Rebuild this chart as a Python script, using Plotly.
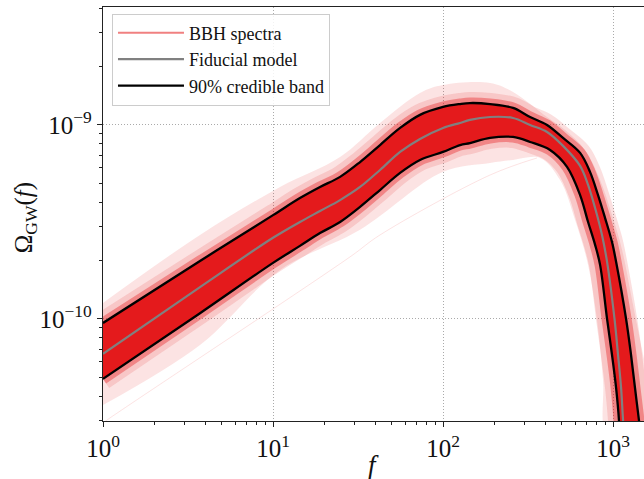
import plotly.graph_objects as go

# ---- values ----
f_fid = [1.0, 3.72, 10, 14.4, 18.9, 24.8, 32.5, 42.6, 55.9, 73.2, 100, 126, 144, 189, 258, 325, 409, 508, 640, 713,
         784, 861, 922, 1020, 1070, 1115, 1146, 1177]
om_fid = [6.60e-11, 1.46e-10, 2.62e-10, 3.16e-10, 3.60e-10, 4.10e-10, 4.79e-10, 5.86e-10, 7.26e-10, 8.47e-10,
          9.65e-10, 1.024e-9, 1.062e-9, 1.099e-9, 1.086e-9, 1.0e-9, 9.20e-10, 7.80e-10, 6.15e-10, 4.91e-10,
          3.73e-10, 2.71e-10, 1.97e-10, 1.0e-10, 6.52e-11, 4.41e-11, 2.98e-11, 2.24e-11]

f_hi = [1.0, 3.72, 10, 14.4, 18.9, 24.8, 32.5, 42.6, 55.9, 73.2, 100, 126, 144, 189, 258, 325, 409, 508, 640, 732,
        816, 897, 986, 1042, 1193, 1276, 1346, 1422, 1482]
om_hi = [9.54e-11, 1.99e-10, 3.43e-10, 4.20e-10, 4.79e-10, 5.40e-10, 6.44e-10, 7.88e-10, 9.65e-10, 1.127e-9,
         1.238e-9, 1.282e-9, 1.297e-9, 1.282e-9, 1.224e-9, 1.099e-9, 1.0e-9, 8.57e-10, 7.18e-10, 5.73e-10,
         4.35e-10, 3.32e-10, 2.49e-10, 1.97e-10, 1.0e-10, 6.52e-11, 4.41e-11, 2.98e-11, 2.24e-11]

f_lo = [1.0, 3.72, 10, 14.4, 18.9, 24.8, 32.5, 42.6, 55.9, 73.2, 100, 126, 144, 189, 258, 325, 426, 536, 640, 713,
        784, 839, 922, 986, 1042, 1084, 1099]
om_lo = [4.91e-11, 1.07e-10, 1.945e-10, 2.38e-10, 2.77e-10, 3.16e-10, 3.78e-10, 4.62e-10, 5.66e-10, 6.60e-10,
         7.26e-10, 7.88e-10, 8.07e-10, 8.57e-10, 8.67e-10, 8.17e-10, 7.43e-10, 6.08e-10, 4.35e-10, 3.16e-10,
         2.41e-10, 1.90e-10, 1.0e-10, 6.52e-11, 4.41e-11, 2.98e-11, 2.24e-11]

# outer envelope of the individual BBH spectra
f_env_hi = [1.0, 3.72, 11.0, 24.8, 42.6, 73.2, 100, 189, 258, 409, 522, 684, 839, 986, 1130, 1294, 1482, 1696, 1700]
om_env_hi = [1.21e-10, 2.71e-10, 4.79e-10, 6.84e-10, 1.024e-9, 1.462e-9, 1.607e-9, 1.646e-9, 1.479e-9, 1.099e-9,
             9.42e-10, 7.43e-10, 5.20e-10, 3.43e-10, 2.27e-10, 1.25e-10, 6.92e-11, 3.82e-11, 1.5e-11]
f_env_lo = [1.0, 3.72, 11.0, 32.5, 100, 189, 258, 372, 488, 598, 713, 805, 873, 922]
om_env_lo = [3.60e-11, 7.35e-11, 1.79e-10, 2.88e-10, 5.73e-10, 6.37e-10, 6.60e-10, 6.76e-10, 5.20e-10, 3.24e-10,
             1.90e-10, 9.89e-11, 4.85e-11, 2.38e-11]

# one outlying BBH spectrum
f_out = [1.0, 1.10, 28.4, 42.6, 189, 357]
om_out = [2.91e-11, 3.09e-11, 2.09e-10, 2.71e-10, 5.52e-10, 6.76e-10]

x_tickvals = [1, 10, 100, 1000]
x_ticktext = ["10<sup>0</sup>", "10<sup>1</sup>", "10<sup>2</sup>", "10<sup>3</sup>"]
y_tickvals = [1e-10, 1e-9]
y_ticktext = ["10<sup>\u221210</sup>", "10<sup>\u22129</sup>"]

RED = "rgb(228,26,28)"
FONT = "Liberation Serif"
SPL = dict(shape="spline", smoothing=1.0)

fig = go.Figure()

# envelope of spectra
fig.add_trace(go.Scatter(x=f_env_hi + f_env_lo[::-1], y=om_env_hi + om_env_lo[::-1],
                         fill="toself", fillcolor="rgba(228,26,28,0.12)", mode="lines",
                         line=dict(width=0, color="rgba(0,0,0,0)", **SPL),
                         showlegend=False, hoverinfo="skip"))
fig.add_trace(go.Scatter(x=f_out, y=om_out, mode="lines",
                         line=dict(color="rgba(228,26,28,0.12)", width=1, **SPL),
                         showlegend=False, hoverinfo="skip"))
# soft glow along band edges (dense spectra)
for w, a in [(22, 0.14), (11, 0.38)]:
    for fx, oy in [(f_hi, om_hi), (f_lo, om_lo)]:
        fig.add_trace(go.Scatter(x=fx, y=oy, mode="lines",
                                 line=dict(color=f"rgba(228,26,28,{a})", width=w, **SPL),
                                 showlegend=False, hoverinfo="skip"))
# 90% band fill
fig.add_trace(go.Scatter(x=f_hi + f_lo[::-1], y=om_hi + om_lo[::-1],
                         fill="toself", fillcolor=RED, mode="lines",
                         line=dict(width=0, color="rgba(0,0,0,0)", **SPL),
                         showlegend=False, hoverinfo="skip"))

# legend entry for spectra
fig.add_trace(go.Scatter(x=[None], y=[None], mode="lines", name="BBH spectra",
                         line=dict(color="rgb(240,128,128)", width=2)))
fig.add_trace(go.Scatter(x=f_fid, y=om_fid, mode="lines", name="Fiducial model",
                         line=dict(color="rgb(128,128,128)", width=2.2, **SPL)))
fig.add_trace(go.Scatter(x=f_hi, y=om_hi, mode="lines", name="90% credible band",
                         line=dict(color="black", width=2.3, **SPL)))
fig.add_trace(go.Scatter(x=f_lo, y=om_lo, mode="lines", name="90% credible band",
                         line=dict(color="black", width=2.3, **SPL), showlegend=False))

x_minor = [k * 10 ** d for d in range(0, 4) for k in range(2, 10)]
y_minor = [k * 10.0 ** d for d in range(-12, -7) for k in range(2, 10)]

axis_common = dict(
    type="log", showline=True, linecolor="#222222", linewidth=1.3,
    ticks="outside", ticklen=5, tickwidth=1, tickcolor="#222222",
    showgrid=True, gridcolor="#aaaaaa", gridwidth=1, griddash="1px,2px",
    zeroline=False, tickfont=dict(family=FONT, size=25, color="#111111"),
)

fig.update_xaxes(**axis_common, range=[0, 3.182], mirror=True,
                 tickvals=x_tickvals, ticktext=x_ticktext,
                 minor=dict(tickvals=x_minor, ticks="outside", ticklen=3, tickcolor="#222222", showgrid=False))
fig.update_yaxes(**axis_common, range=[-10.526, -8.392],
                 tickvals=y_tickvals, ticktext=y_ticktext,
                 minor=dict(tickvals=y_minor, ticks="outside", ticklen=3, tickcolor="#222222", showgrid=False))

fig.update_layout(
    width=644, height=479,
    margin=dict(l=103, r=0, t=7, b=58),
    plot_bgcolor="white", paper_bgcolor="white",
    font=dict(family=FONT, color="#111111"),
    legend=dict(x=0.0166, y=0.984, xanchor="left", yanchor="top",
                bgcolor="rgba(255,255,255,0.85)", bordercolor="#cccccc", borderwidth=1,
                font=dict(family=FONT, size=18, color="#111111"), itemwidth=66),
    annotations=[
        dict(text="<i>f</i>", xref="paper", yref="paper", x=0.5, y=-0.106,
             showarrow=False, font=dict(family=FONT, size=27), xanchor="center", yanchor="middle"),
        dict(text="\u03a9<sub>GW</sub>(<i>f</i>)", xref="paper", yref="paper", x=-0.144, y=0.49,
             showarrow=False, textangle=-90, font=dict(family=FONT, size=25), xanchor="center", yanchor="middle"),
    ],
)

fig.write_html("out.html")
